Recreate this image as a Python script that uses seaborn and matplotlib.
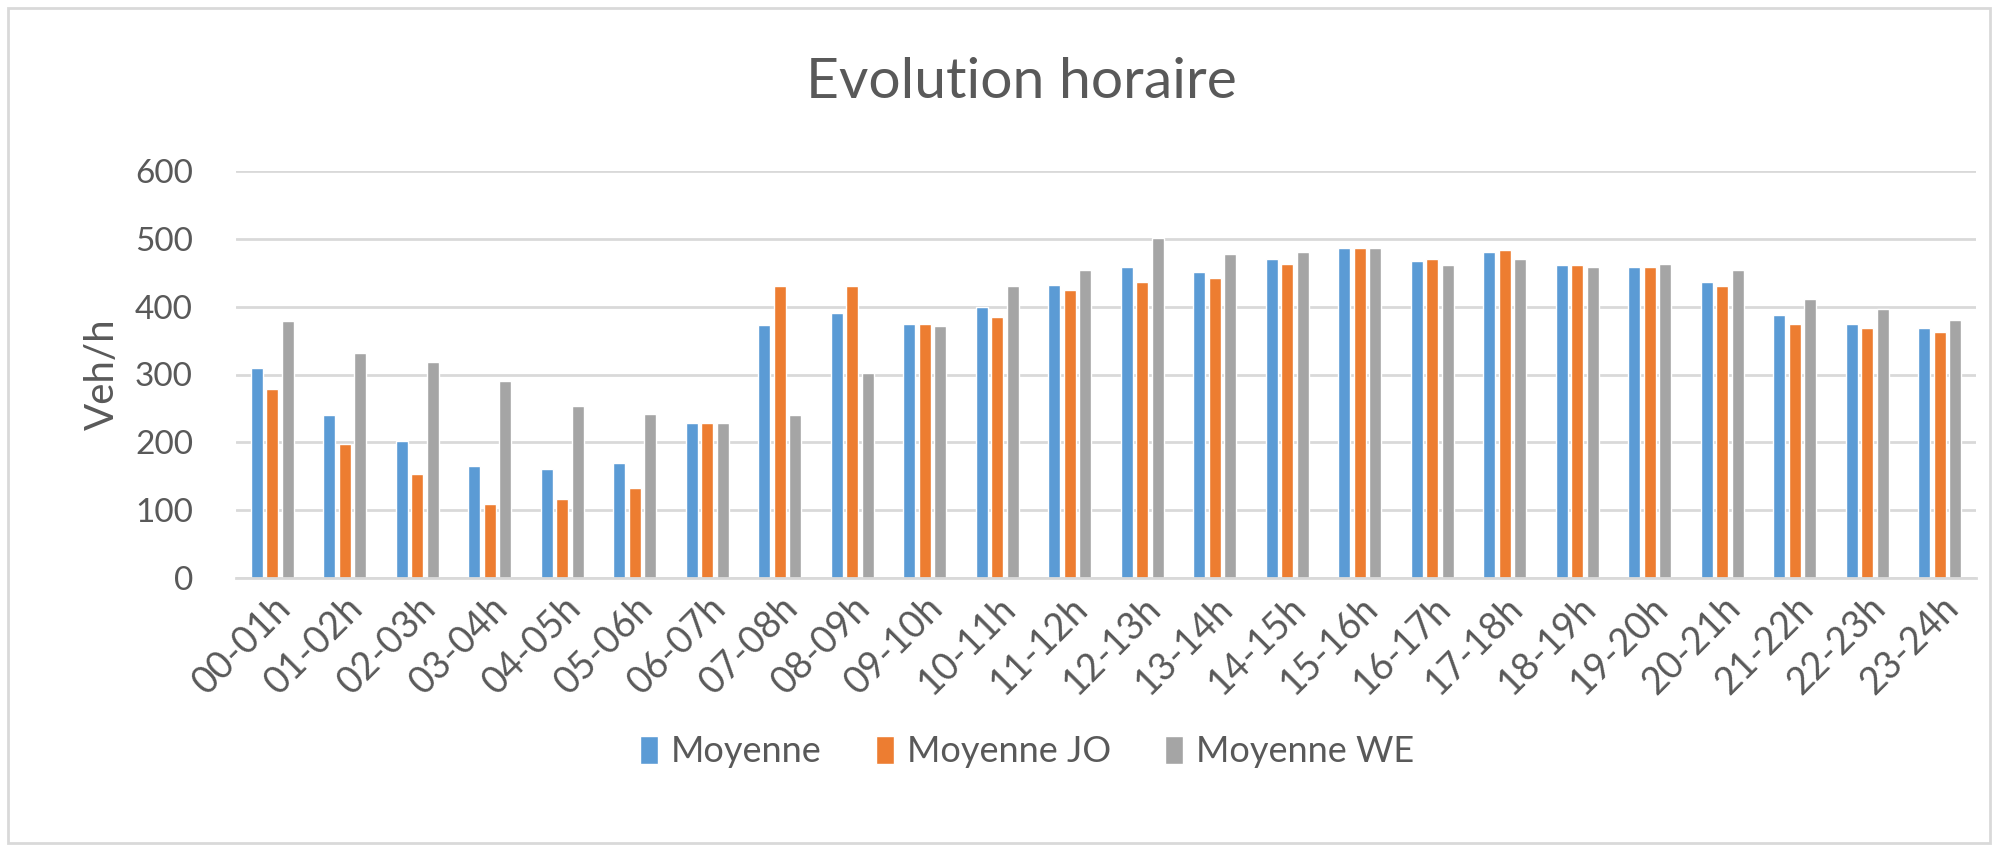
import numpy as np
import pandas as pd
import matplotlib
matplotlib.use("Agg")
import matplotlib.pyplot as plt
import seaborn as sns
from matplotlib.patches import Rectangle

# Evolution horaire du trafic (veh/h) par tranche horaire
hours = ["00-01h", "01-02h", "02-03h", "03-04h", "04-05h", "05-06h", "06-07h", "07-08h",
         "08-09h", "09-10h", "10-11h", "11-12h", "12-13h", "13-14h", "14-15h", "15-16h",
         "16-17h", "17-18h", "18-19h", "19-20h", "20-21h", "21-22h", "22-23h", "23-24h"]
moyenne = [309, 240, 202, 165, 160, 170, 228, 373,
           391, 375, 400, 432, 458, 451, 470, 486,
           467, 480, 461, 458, 437, 387, 374, 368]
moyenne_jo = [279, 198, 153, 109, 116, 133, 228, 431,
              430, 375, 385, 424, 437, 442, 463, 486,
              470, 483, 461, 458, 431, 374, 368, 362]
moyenne_we = [379, 331, 319, 290, 254, 242, 228, 241,
              302, 372, 431, 454, 501, 477, 481, 486,
              461, 470, 458, 463, 454, 412, 396, 380]
series = ["Moyenne", "Moyenne JO", "Moyenne WE"]
colors = ["#5B9BD5", "#ED7D31", "#A5A5A5"]

df = pd.DataFrame({"Heure": hours, "Moyenne": moyenne,
                   "Moyenne JO": moyenne_jo, "Moyenne WE": moyenne_we})
long = df.melt(id_vars="Heure", var_name="Serie", value_name="Veh/h")

sns.set_style("white")
plt.rcParams["font.family"] = ["Lato", "DejaVu Sans"]
txt = "#595959"
grid = "#D9D9D9"

fig = plt.figure(figsize=(20.14, 8.48), dpi=100)
ax = fig.add_axes([236 / 2014, 1 - 578 / 848, (1976 - 236) / 2014, (578 - 171) / 848])

sns.barplot(data=long, x="Heure", y="Veh/h", hue="Serie", hue_order=series,
            palette=colors, width=0.65, gap=0.24, saturation=1, ax=ax, legend=True)

ax.set_ylim(0, 600)
ax.set_yticks(range(0, 700, 100))
ax.set_xlim(-0.5, len(hours) - 0.5)
ax.yaxis.grid(True, color=grid, linewidth=2)
ax.set_axisbelow(True)
for s in ["left", "right", "top"]:
    ax.spines[s].set_visible(False)
ax.spines["bottom"].set_color(grid)
ax.spines["bottom"].set_linewidth(2)
ax.tick_params(axis="both", length=0, colors=txt)
ax.tick_params(axis="y", pad=31, labelsize=24)
ax.tick_params(axis="x", pad=8, labelsize=27)
plt.setp(ax.get_xticklabels(), rotation=45, ha="right", rotation_mode="anchor")
ax.set_xlabel("")
ax.set_ylabel("Veh/h", fontsize=29, color=txt)
ax.yaxis.set_label_coords(-0.066, 0.5)

fig.text(0.507, 1 - 83 / 848, "Evolution horaire", ha="center", va="center",
         fontsize=41, color=txt)

handles, labels = ax.get_legend_handles_labels()
ax.get_legend().remove()
fig.legend(handles, labels, loc="center", bbox_to_anchor=(0.51, 1 - 752 / 848), ncol=3,
           frameon=False, fontsize=26, handlelength=0.5, handleheight=0.8,
           handletextpad=0.35, columnspacing=1.5, labelcolor=txt)

fig.patches.append(Rectangle((0.004, 0.006), 0.984, 0.985, transform=fig.transFigure,
                             fill=False, edgecolor=grid, linewidth=2))

fig.savefig("out.png", dpi=100, facecolor="white")
